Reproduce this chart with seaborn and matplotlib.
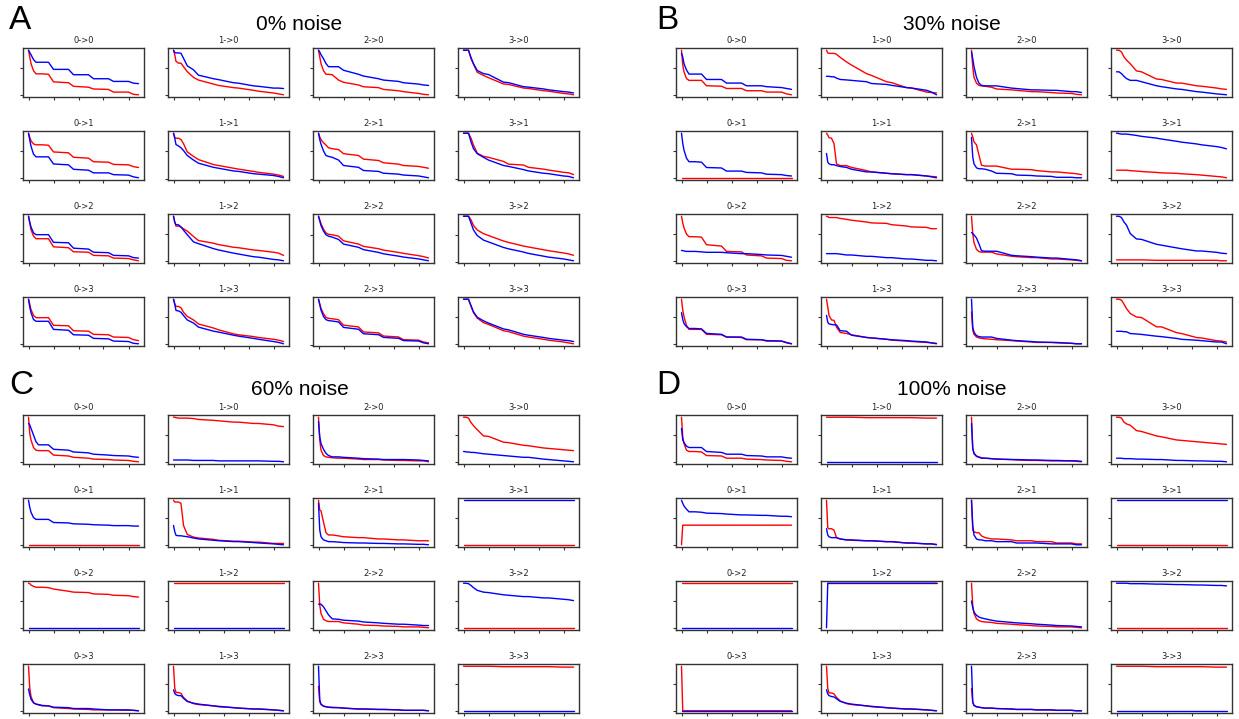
import matplotlib
matplotlib.use("Agg")
import matplotlib.pyplot as plt
import seaborn as sns
from matplotlib.ticker import MaxNLocator

# ---------------- data ----------------
X = [0, 1, 2, 4, 6, 8, 11, 16, 20, 32, 36, 48, 52, 64, 68, 80, 84, 88]
NODES = [0, 1, 2, 3]
PANEL_LETTERS = ["A", "B", "C", "D"]
NOISE_LABELS = ["0% noise", "30% noise", "60% noise", "100% noise"]
X_TICKS = [0, 20, 40, 60, 80]

# each list: 16 curves in row-major order (row = target, col = source), title "col->row"
A_RED = [
    [100,85,70,54,47,47,47,46,29,27,19,17,13,12,6,6,1,0],
    [100,90,75,71,71,63,52,39,33,24,21,16,15,10,8,4,2,0],
    [100,85,70,54,46,46,45,33,28,22,18,16,12,9,7,3,1,0],
    [100,100,100,100,81,69,51,44,39,25,24,16,15,10,9,4,3,1],
    [100,91,83,76,74,74,74,73,58,56,46,44,36,35,30,29,25,23],
    [100,91,89,89,86,77,59,49,42,31,29,23,21,16,14,10,8,5],
    [100,92,86,79,74,68,66,64,55,51,43,40,35,32,29,27,25,23],
    [100,100,100,100,89,74,56,49,47,38,32,30,25,21,19,14,13,9],
    [100,85,70,56,50,50,50,50,32,30,21,20,13,12,7,6,3,1],
    [100,87,78,78,76,72,67,55,46,40,37,31,30,25,24,20,18,13],
    [100,92,84,72,64,61,60,57,47,40,35,30,27,22,20,15,13,10],
    [100,100,100,100,92,80,70,62,58,46,43,35,33,27,25,20,18,15],
    [100,89,77,64,59,59,59,59,42,41,30,29,22,21,16,15,10,8],
    [100,90,84,84,81,71,62,54,45,36,32,23,21,17,15,11,9,6],
    [100,90,80,68,60,58,57,55,43,39,28,26,19,17,11,10,6,4],
    [100,100,100,100,84,70,58,48,44,30,28,18,16,11,9,5,3,1],
]
A_BLUE = [
    [100,95,90,79,73,73,73,73,57,57,45,45,36,36,30,30,26,25],
    [100,95,94,94,93,82,65,56,44,36,34,27,26,20,19,15,15,14],
    [100,96,90,81,70,63,63,63,55,46,42,36,33,30,27,24,22,21],
    [100,100,100,100,84,70,55,48,46,29,28,19,18,14,12,8,7,5],
    [100,85,71,53,47,47,47,47,31,29,19,17,11,11,7,6,2,0],
    [100,89,75,72,68,62,51,41,34,25,23,17,16,11,10,7,5,2],
    [100,86,76,61,51,49,47,41,29,25,18,16,12,10,8,6,4,2],
    [100,100,100,100,81,66,55,47,41,29,27,20,17,12,11,6,5,2],
    [100,87,76,63,59,59,59,59,42,41,29,27,20,19,13,12,8,7],
    [100,87,81,81,76,69,59,43,39,28,25,18,16,10,9,4,3,1],
    [100,90,80,68,60,57,55,50,40,33,28,22,19,14,12,8,6,4],
    [100,100,100,100,85,70,58,48,44,32,29,22,19,13,11,7,5,3],
    [100,83,70,55,51,51,51,51,33,31,21,20,13,12,7,6,2,1],
    [100,89,75,74,71,64,54,47,38,29,27,20,18,13,11,6,4,1],
    [100,88,76,62,55,53,52,50,38,34,24,22,16,14,9,8,4,2],
    [100,100,100,100,86,72,60,52,47,34,32,22,20,15,13,9,8,6],
]
B_RED = [
    [100,67,52,37,33,33,33,33,21,20,15,15,10,10,7,7,3,1],
    [100,94,93,93,93,91,84,74,67,48,44,30,28,17,16,7,6,5],
    [100,63,39,26,21,20,19,17,13,11,10,7,7,5,4,3,1,0],
    [100,100,100,96,85,78,70,54,52,36,35,27,27,21,20,16,14,13],
    [0,0,0,0,0,0,0,0,0,0,0,0,0,0,0,0,0,0],
    [100,96,90,89,77,32,28,28,24,17,14,11,10,8,8,5,4,3],
    [100,92,81,74,51,29,27,27,27,20,20,19,17,14,14,11,10,8],
    [17,17,17,17,17,17,16,15,14,12,11,10,9,7,6,3,2,0],
    [100,85,74,60,54,54,54,53,36,33,21,20,13,11,6,5,1,0],
    [100,99,97,97,97,97,95,93,91,87,85,84,81,78,76,75,72,72],
    [100,61,42,27,22,21,21,21,17,12,11,9,9,6,6,4,3,2],
    [2,2,2,2,2,2,2,2,2,1,1,1,1,1,1,1,0,0],
    [100,76,61,42,33,33,33,33,22,21,16,15,10,10,7,7,3,1],
    [100,83,64,54,53,38,26,24,21,15,14,11,9,7,6,4,3,2],
    [72,31,22,16,14,13,12,11,10,8,7,5,4,4,3,2,1,1],
    [100,100,100,98,89,79,68,60,59,38,38,25,23,14,13,7,6,4],
]
B_BLUE = [
    [93,85,70,56,47,47,47,47,35,35,27,27,21,21,19,17,15,13],
    [42,42,42,41,41,38,35,34,33,30,26,24,22,17,16,11,7,1],
    [96,81,63,39,26,21,20,20,20,15,14,11,11,10,10,7,7,5],
    [52,52,52,48,42,37,33,33,30,21,19,14,13,8,7,3,2,1],
    [100,77,62,44,36,36,36,35,23,22,15,15,12,11,8,7,5,4],
    [55,36,32,30,30,28,26,24,20,14,14,11,10,8,8,5,3,1],
    [91,47,32,23,21,21,20,16,11,10,7,6,5,4,2,2,1,1],
    [100,100,99,98,98,98,97,95,93,89,87,82,80,76,74,70,68,65],
    [23,23,22,21,21,21,21,20,19,19,18,16,16,14,13,12,10,8],
    [16,16,16,16,16,16,15,13,13,10,10,7,7,4,4,1,1,0],
    [64,62,59,52,39,24,23,23,23,14,13,11,10,8,8,5,4,2],
    [100,100,100,97,87,80,61,49,48,37,35,29,27,22,22,19,17,16],
    [70,55,46,39,35,35,35,34,24,22,16,16,11,10,8,7,4,1],
    [64,49,45,44,43,43,30,29,20,15,14,11,10,8,7,5,3,1],
    [100,38,27,19,17,16,16,16,13,9,8,6,5,4,4,2,1,1],
    [28,28,28,28,27,27,23,22,21,17,16,12,10,8,7,4,4,0],
]
C_RED = [
    [100,64,49,32,26,25,25,25,15,13,10,8,6,5,4,3,1,0],
    [100,100,99,98,98,98,98,97,95,93,92,89,89,86,86,83,80,79],
    [100,49,26,14,11,10,9,8,8,6,5,5,4,3,3,2,2,0],
    [100,100,100,98,88,81,72,58,57,44,43,37,36,31,30,27,26,25],
    [0,0,0,0,0,0,0,0,0,0,0,0,0,0,0,0,0,0],
    [100,96,96,96,93,44,24,18,16,13,11,9,9,7,7,4,4,4],
    [100,78,76,51,27,22,22,20,18,16,16,13,13,11,11,9,9,9],
    [0,0,0,0,0,0,0,0,0,0,0,0,0,0,0,0,0,0],
    [100,99,96,93,91,91,91,90,87,82,80,79,76,75,73,72,70,69],
    [100,100,100,100,100,100,100,100,100,100,100,100,100,100,100,100,100,100],
    [100,51,32,19,16,14,14,14,11,8,6,5,4,3,2,2,1,0],
    [0,0,0,0,0,0,0,0,0,0,0,0,0,0,0,0,0,0],
    [100,51,32,18,15,13,11,11,7,5,4,3,2,2,2,1,1,0],
    [100,51,41,41,39,30,22,16,14,11,9,7,6,4,4,2,1,0],
    [55,20,14,11,9,8,8,7,6,4,4,3,3,2,1,1,1,0],
    [100,100,100,100,100,100,100,100,100,99,99,99,99,99,99,98,98,98],
]
C_BLUE = [
    [86,83,75,60,45,38,38,38,28,26,22,20,17,15,14,13,11,10],
    [4,4,4,4,4,4,4,3,3,3,2,2,2,2,2,1,1,0],
    [90,56,41,28,19,14,11,11,10,8,7,6,5,5,5,4,3,2],
    [23,23,22,22,21,21,20,18,17,14,13,10,10,6,5,2,1,0],
    [100,84,73,61,57,57,57,57,50,49,47,46,45,44,43,43,42,42],
    [44,30,22,21,21,20,19,16,14,11,10,8,8,6,5,3,2,1],
    [93,33,18,11,9,7,7,6,5,4,4,3,3,2,2,1,1,0],
    [100,100,100,100,100,100,100,100,100,100,100,100,100,100,100,100,100,100],
    [0,0,0,0,0,0,0,0,0,0,0,0,0,0,0,0,0,0],
    [0,0,0,0,0,0,0,0,0,0,0,0,0,0,0,0,0,0],
    [53,53,53,47,38,29,20,19,17,15,13,11,10,8,8,6,5,5],
    [100,100,100,99,95,90,84,80,79,74,73,70,70,67,67,64,63,61],
    [49,36,26,18,15,14,12,11,8,7,5,5,4,2,2,2,1,0],
    [47,39,36,34,34,28,21,17,15,11,10,7,6,4,4,2,1,0],
    [100,24,15,10,9,8,7,7,6,4,4,3,3,2,1,1,1,0],
    [0,0,0,0,0,0,0,0,0,0,0,0,0,0,0,0,0,0],
]
D_RED = [
    [100,56,41,26,23,23,23,22,14,13,8,8,6,5,4,3,1,0],
    [100,100,100,100,100,100,100,100,100,99,99,99,99,99,99,98,98,98],
    [100,30,20,13,11,9,8,7,6,5,4,3,3,2,2,2,1,0],
    [100,100,100,98,89,85,82,70,68,58,56,49,48,45,44,41,40,39],
    [0,44,44,44,44,44,44,44,44,44,44,44,44,44,44,44,44,44],
    [100,38,36,36,33,16,13,11,10,9,9,7,7,4,4,2,2,1],
    [100,33,29,27,27,20,16,13,13,11,9,9,7,7,4,4,2,2],
    [0,0,0,0,0,0,0,0,0,0,0,0,0,0,0,0,0,0],
    [100,100,100,100,100,100,100,100,100,100,100,100,100,100,100,100,100,100],
    [100,100,100,100,100,100,100,100,100,100,100,100,100,100,100,100,100,100],
    [100,50,32,20,16,14,13,12,10,8,7,5,4,3,2,2,1,0],
    [0,0,0,0,0,0,0,0,0,0,0,0,0,0,0,0,0,0],
    [100,0,0,0,0,0,0,0,0,0,0,0,0,0,0,0,0,0],
    [100,50,40,40,38,30,22,16,14,11,9,7,6,4,4,2,1,0],
    [50,18,12,9,8,7,6,6,5,4,3,3,2,2,1,1,0,0],
    [100,100,100,100,100,100,100,100,100,99,99,99,99,99,99,98,98,98],
]
D_BLUE = [
    [75,49,43,35,32,32,32,32,23,21,17,17,14,13,11,11,9,8],
    [0,0,0,0,0,0,0,0,0,0,0,0,0,0,0,0,0,0],
    [86,30,18,12,10,8,8,7,6,5,5,4,4,3,3,2,2,1],
    [8,8,8,8,7,7,7,6,6,5,5,3,3,2,2,1,1,0],
    [100,93,87,80,74,74,74,73,71,70,69,67,67,66,66,64,64,63],
    [36,22,18,16,16,16,13,11,11,9,9,7,7,4,4,2,2,0],
    [100,44,22,13,11,11,9,9,7,7,4,4,4,2,2,2,0,0],
    [100,100,100,100,100,100,100,100,100,100,100,100,100,100,100,100,100,100],
    [0,0,0,0,0,0,0,0,0,0,0,0,0,0,0,0,0,0],
    [0,100,100,100,100,100,100,100,100,100,100,100,100,100,100,100,100,100],
    [60,45,35,28,24,22,20,17,15,12,11,9,8,6,5,4,3,2],
    [100,100,100,100,100,100,99,99,99,98,98,97,97,96,96,95,95,94],
    [0,0,0,0,0,0,0,0,0,0,0,0,0,0,0,0,0,0],
    [47,38,34,32,31,27,21,17,15,11,10,7,6,4,4,2,1,0],
    [100,20,12,9,8,7,6,6,5,4,3,3,2,2,1,1,0,0],
    [0,0,0,0,0,0,0,0,0,0,0,0,0,0,0,0,0,0],
]

PANELS = [
    (A_RED, A_BLUE),
    (B_RED, B_BLUE),
    (C_RED, C_BLUE),
    (D_RED, D_BLUE),
]

# ---------------- style / layout ----------------
sns.set_style("ticks")
plt.rcParams["font.family"] = ["DejaVu Sans"]
plt.rcParams["text.color"] = "black"

W, H = 1239, 719
fig = plt.figure(figsize=(W / 100, H / 100), dpi=100)

PANEL_ORIGIN = [(23, 48), (676, 48), (23, 415), (676, 415)]
COL_STEP, ROW_STEP = 145, 83
AX_W, AX_H = 121, 49
SPINE_COLOR = "#333333"

for p, (reds, blues) in enumerate(PANELS):
    ox, oy = PANEL_ORIGIN[p]
    for r in NODES:
        for c in NODES:
            k = r * 4 + c
            left = ox + c * COL_STEP
            top = oy + r * ROW_STEP
            ax = fig.add_axes([left / W, 1 - (top + AX_H) / H, AX_W / W, AX_H / H])
            sns.lineplot(x=X, y=reds[k], color="red", linewidth=1.0, ax=ax)
            sns.lineplot(x=X, y=blues[k], color="blue", linewidth=1.0, ax=ax)
            ax.set_xticks(X_TICKS)
            ax.yaxis.set_major_locator(MaxNLocator(nbins=2))
            ax.tick_params(labelbottom=False, labelleft=False, length=2.2,
                           width=0.8, color=SPINE_COLOR, direction="out")
            for s in ax.spines.values():
                s.set_color(SPINE_COLOR)
                s.set_linewidth(1.0)
            ax.set_xlabel("")
            ax.set_ylabel("")
            ax.set_title(f"{NODES[c]}->{NODES[r]}", fontsize=6, pad=3.4,
                         color="#222222")

# panel letters and noise headings
LETTER_POS = [(9, 29), (656, 29), (9, 394), (656, 394)]
NOISE_POS = [(299, 30), (952, 30), (300, 395), (952, 395)]
for p in range(4):
    lx, ly = LETTER_POS[p]
    fig.text(lx / W, 1 - ly / H, PANEL_LETTERS[p], fontsize=24, color="black",
             family="Liberation Sans", ha="left", va="baseline")
    nx, ny = NOISE_POS[p]
    fig.text(nx / W, 1 - ny / H, NOISE_LABELS[p], fontsize=15, color="black",
             family="Liberation Sans", ha="center", va="baseline")

fig.savefig("out.png", dpi=100)
